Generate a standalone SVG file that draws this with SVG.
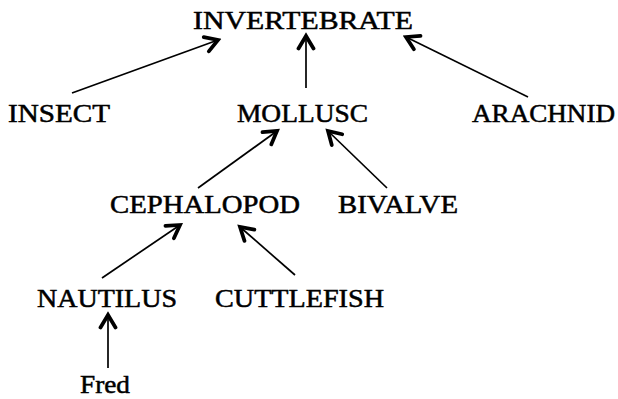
<svg xmlns="http://www.w3.org/2000/svg" width="618" height="399" viewBox="0 0 618 399">
<style>
.lbl{font-family:"Liberation Serif","Times New Roman",serif;font-size:25px;fill:#000;stroke:#000;stroke-width:0.5;}
.edge{stroke:#000;stroke-width:1.7;fill:none;marker-end:url(#ah);}
</style>
<defs>
<marker id="ah" markerUnits="userSpaceOnUse" markerWidth="20" markerHeight="20" viewBox="-12 -8 14 16" refX="0" refY="0" orient="auto">
<path d="M-10,-6 L0,0 L-10,6" fill="none" stroke="#000" stroke-width="3" stroke-linecap="round" stroke-linejoin="miter"/>
</marker>
</defs>
<rect width="618" height="399" fill="#fff"/>
<g id="connectors">
<line class="edge" x1="72" y1="93" x2="218" y2="40"/>
<line class="edge" x1="306" y1="88" x2="306" y2="36"/>
<line class="edge" x1="528" y1="97" x2="406" y2="37"/>
<line class="edge" x1="198" y1="188" x2="277" y2="131"/>
<line class="edge" x1="387" y1="188" x2="328" y2="131"/>
<line class="edge" x1="102" y1="278" x2="180" y2="225"/>
<line class="edge" x1="295" y1="275" x2="240" y2="227"/>
<line class="edge" x1="108" y1="368" x2="108" y2="315"/>
</g>
<g id="invertebrate"><text class="lbl" x="193" y="29" textLength="220" lengthAdjust="spacingAndGlyphs">INVERTEBRATE</text></g>
<g id="insect"><text class="lbl" x="8" y="122" textLength="102" lengthAdjust="spacingAndGlyphs">INSECT</text></g>
<g id="mollusc"><text class="lbl" x="237" y="122" textLength="131" lengthAdjust="spacingAndGlyphs">MOLLUSC</text></g>
<g id="arachnid"><text class="lbl" x="472" y="122" textLength="143" lengthAdjust="spacingAndGlyphs">ARACHNID</text></g>
<g id="cephalopod"><text class="lbl" x="110" y="213" textLength="190" lengthAdjust="spacingAndGlyphs">CEPHALOPOD</text></g>
<g id="bivalve"><text class="lbl" x="338" y="213" textLength="120" lengthAdjust="spacingAndGlyphs">BIVALVE</text></g>
<g id="nautilus"><text class="lbl" x="37" y="307" textLength="140" lengthAdjust="spacingAndGlyphs">NAUTILUS</text></g>
<g id="cuttlefish"><text class="lbl" x="215" y="307" textLength="169" lengthAdjust="spacingAndGlyphs">CUTTLEFISH</text></g>
<g id="fred"><text class="lbl" x="80" y="393" textLength="50" lengthAdjust="spacingAndGlyphs">Fred</text></g>
</svg>
